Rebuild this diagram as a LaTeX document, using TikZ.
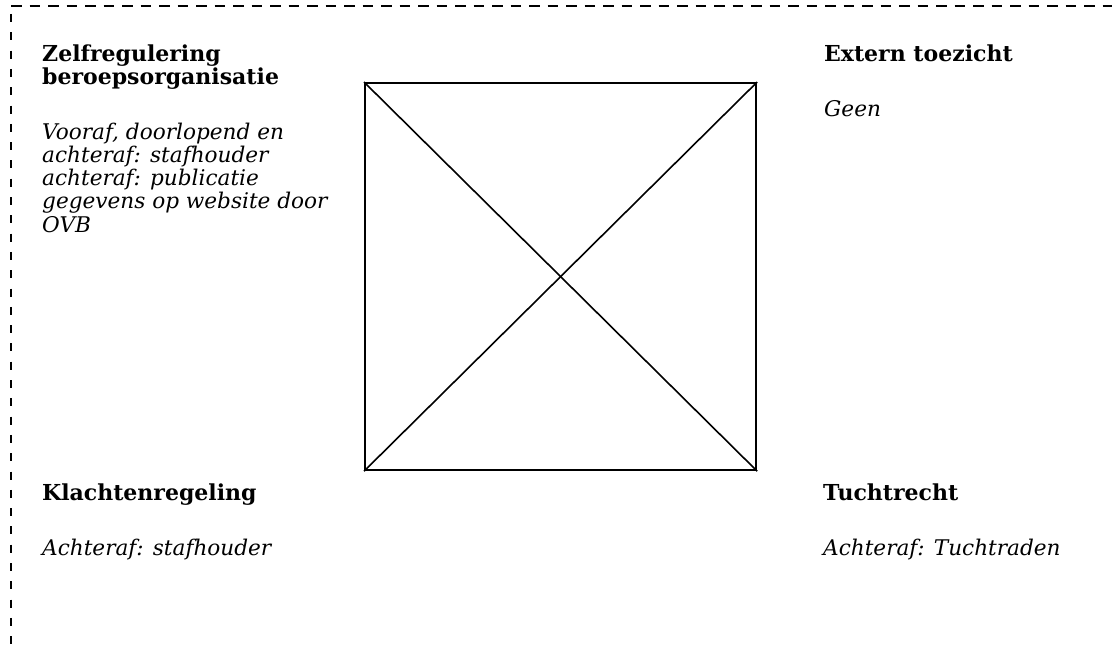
\documentclass[tikz,border=0pt]{standalone}
\usepackage{fontspec}
\setmainfont{DejaVu Serif}
\begin{document}
\begin{tikzpicture}[x=1bp,y=-1bp,
  head/.style={anchor=base west, inner sep=0pt, font=\bfseries\fontsize{22bp}{23bp}\selectfont},
  body/.style={anchor=base west, inner sep=0pt, font=\itshape\fontsize{21.6bp}{23bp}\selectfont},
  border/.style={line width=2.6bp, line cap=butt},
  box/.style={draw, line width=2.2bp, minimum width=391bp, minimum height=387bp, inner sep=0pt, anchor=north west},
  diag/.style={line width=1.6bp}]
\useasboundingbox (0,0) rectangle (1112,650);
\clip (0,0) rectangle (1112,650);
\coordinate (tl) at (11,6);
\coordinate (tr) at (1115,6);
\coordinate (ls) at (11,14);
\coordinate (bl) at (11,655);
\draw[border, dash pattern=on 10.5bp off 8bp] (tl) -- (tr);
\draw[border, dash pattern=on 8bp off 10.3bp] (ls) -- (bl);
\node[box] (sq) at (364,82) {};
\draw[diag] (sq.north west) -- (sq.south east);
\draw[diag] (sq.south west) -- (sq.north east);
\node[head] (h1) at (42,62) {\parbox[t]{300bp}{\raggedright Zelfregulering\\beroepsorganisatie}};
\node[body] (b1) at (42,140) {\parbox[t]{300bp}{\raggedright Vooraf, doorlopend en\\achteraf: stafhouder\\achteraf: publicatie\\gegevens op website door\\OVB}};
\node[head] (h2) at (824,62) {Extern toezicht};
\node[body] (b2) at (824,117) {Geen};
\node[head] (h3) at (42,500) {Klachtenregeling};
\node[body] (b3) at (42,555) {Achteraf: stafhouder};
\node[head] (h4) at (823,500) {Tuchtrecht};
\node[body] (b4) at (823,555) {Achteraf: Tuchtraden};
\end{tikzpicture}
\end{document}
